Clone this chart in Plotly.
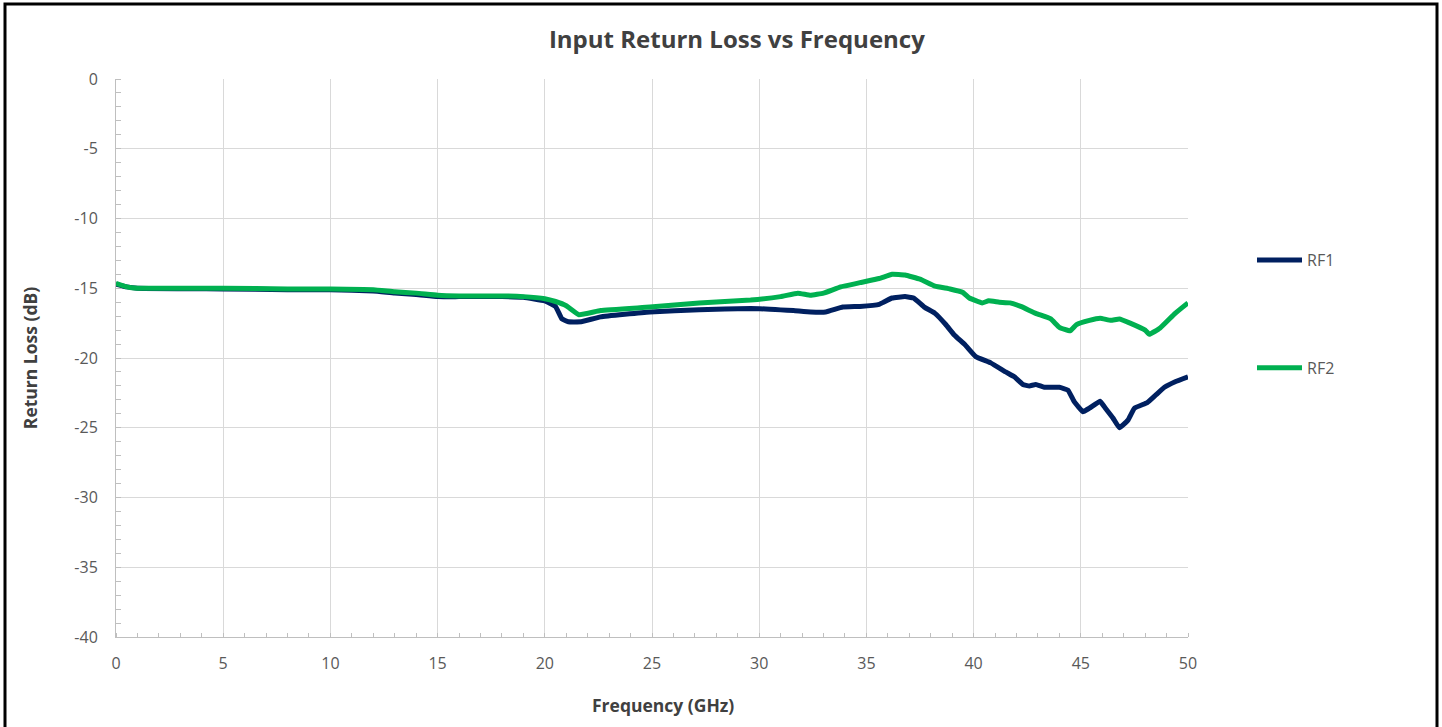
import plotly.graph_objects as go

rf1_freq = [0, 0.5, 1, 5, 8, 10, 12, 13, 14, 15, 16, 18, 19, 20, 20.5, 20.8, 21.1, 21.7,
            22.6, 24.9, 27.2, 29.6, 30.5, 31.0, 31.6, 32.4, 33.1, 33.9, 34.7, 35.6, 35.8,
            36.2, 36.8, 37.2, 37.7, 38.2, 38.7, 39.1, 39.6, 40.1, 40.8, 41.5, 41.9, 42.3,
            42.6, 42.9, 43.3, 44.0, 44.4, 44.7, 45.1, 45.4, 45.9, 46.1, 46.5, 46.8, 47.2,
            47.5, 48.1, 48.5, 48.9, 49.4, 50]
rf1_loss = [-14.7, -14.9, -15.0, -15.05, -15.1, -15.1, -15.2, -15.35, -15.45, -15.6, -15.6,
            -15.6, -15.65, -15.9, -16.3, -17.2, -17.4, -17.4, -17.05, -16.7, -16.55, -16.45,
            -16.5, -16.55, -16.6, -16.7, -16.7, -16.35, -16.3, -16.15, -16.0, -15.7, -15.6,
            -15.7, -16.35, -16.8, -17.6, -18.35, -19.05, -19.9, -20.35, -21.0, -21.35, -21.9,
            -22.0, -21.9, -22.1, -22.1, -22.3, -23.15, -23.85, -23.6, -23.1, -23.5, -24.3,
            -25.0, -24.45, -23.6, -23.2, -22.65, -22.1, -21.7, -21.35]

rf2_freq = [0, 0.5, 1, 5, 8, 10, 12, 13, 14, 15, 16, 18, 19, 20, 20.5, 21.0, 21.6, 22.6,
            24.9, 27.2, 29.6, 31.0, 31.8, 32.4, 33.0, 33.8, 34.7, 35.6, 36.2, 36.8, 37.5,
            38.2, 38.9, 39.5, 39.8, 40.4, 40.7, 41.2, 41.7, 42.2, 42.9, 43.6, 44.0, 44.5,
            44.8, 45.4, 45.9, 46.4, 46.8, 47.3, 48.0, 48.2, 48.7, 49.4, 50]
rf2_loss = [-14.65, -14.9, -15.0, -15.0, -15.05, -15.05, -15.1, -15.25, -15.35, -15.5, -15.55,
            -15.55, -15.6, -15.75, -15.95, -16.25, -16.9, -16.6, -16.35, -16.05, -15.85, -15.6,
            -15.35, -15.5, -15.35, -14.9, -14.6, -14.3, -14.0, -14.05, -14.35, -14.85, -15.05,
            -15.3, -15.7, -16.05, -15.9, -16.0, -16.05, -16.3, -16.8, -17.2, -17.8, -18.05,
            -17.6, -17.3, -17.15, -17.3, -17.2, -17.5, -18.0, -18.3, -17.85, -16.8, -16.05]

x_ticks = [0, 5, 10, 15, 20, 25, 30, 35, 40, 45, 50]
y_ticks = [0, -5, -10, -15, -20, -25, -30, -35, -40]

FONT = "Open Sans"
TXT = "#595959"

fig = go.Figure()
fig.add_trace(go.Scatter(x=rf1_freq, y=rf1_loss, mode="lines", name="RF1",
                         legendgroup="a",
                         line=dict(color="#002060", width=5, shape="spline", smoothing=0.3)))
fig.add_trace(go.Scatter(x=rf2_freq, y=rf2_loss, mode="lines", name="RF2",
                         legendgroup="b",
                         line=dict(color="#00B050", width=5, shape="spline", smoothing=0.3)))

fig.update_layout(
    width=1442, height=727,
    margin=dict(l=116, r=254, t=79, b=90),
    paper_bgcolor="white", plot_bgcolor="white",
    font=dict(family=FONT, size=15, color=TXT),
    title=dict(text="<b>Input Return Loss vs Frequency</b>", x=0.511, xref="container",
               xanchor="center", y=1 - 40 / 727, yref="container", yanchor="middle",
               font=dict(family=FONT, size=24, color="#404040")),
    xaxis=dict(range=[0, 50], tickvals=x_ticks, ticktext=[str(v) for v in x_ticks],
               showgrid=True, gridcolor="#D9D9D9",
               showline=True, linecolor="#BFBFBF", linewidth=1, zeroline=False,
               ticks="", tickfont=dict(size=16, color=TXT), ticklabelstandoff=12,
               minor=dict(dtick=1, ticks="inside", ticklen=4, tickcolor="#BFBFBF", showgrid=False)),
    yaxis=dict(range=[-40, 0], tickvals=y_ticks, ticktext=[str(v) for v in y_ticks],
               showgrid=True, gridcolor="#D9D9D9",
               showline=True, linecolor="#BFBFBF", linewidth=1, zeroline=False,
               ticks="", tickfont=dict(size=16, color=TXT), ticklabelstandoff=14,
               minor=dict(dtick=1, ticks="inside", ticklen=5, tickcolor="#BFBFBF", showgrid=False),
               title=dict(text="<b>Return Loss (dB)</b>", standoff=32,
                          font=dict(size=17.5, color="#404040"))),
    legend=dict(x=(1252 - 116) / 1072, y=(637 - 243) / 558, xanchor="left", yanchor="top",
                tracegroupgap=84, font=dict(size=16, color=TXT), bgcolor="rgba(0,0,0,0)",
                itemwidth=45),
    showlegend=True,
)

fig.add_annotation(text="<b>Frequency (GHz)</b>", xref="paper", yref="paper",
                   x=(663 - 116) / 1072, y=(637 - 705) / 558, xanchor="center", yanchor="middle",
                   showarrow=False, font=dict(family=FONT, size=17.5, color="#404040"))

fig.add_shape(type="rect", xref="paper", yref="paper",
              x0=(5 - 116) / 1072, x1=(1437 - 116) / 1072,
              y0=(637 - 740) / 558, y1=(637 - 4) / 558,
              line=dict(color="black", width=3), fillcolor="rgba(0,0,0,0)", layer="above")

fig.write_html("out.html", config={"displayModeBar": False},
               post_script="document.body.style.margin='0px';")
